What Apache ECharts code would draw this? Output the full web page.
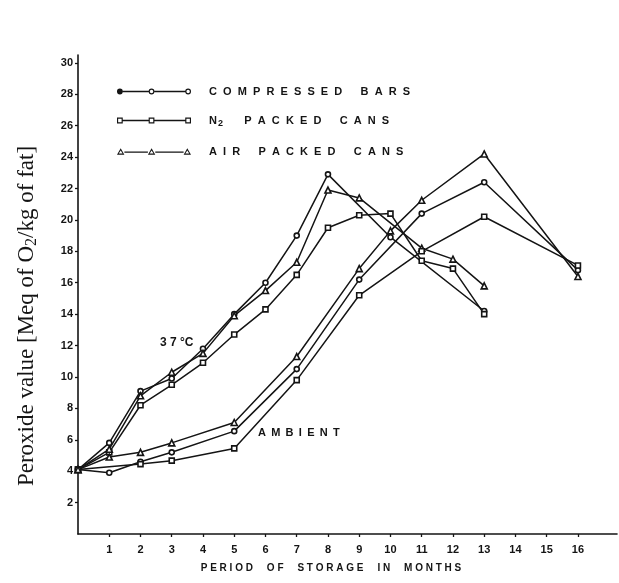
<!DOCTYPE html>
<html>
<head>
<meta charset="utf-8">
<script src="https://cdn.jsdelivr.net/npm/echarts@6/dist/echarts.min.js"></script>
<style>html,body{margin:0;padding:0;background:#fff}#c{width:619px;height:583px}</style>
</head>
<body>
<div id="c"></div>
<script>
// ---- tick labels ----
const xTicks = [1,2,3,4,5,6,7,8,9,10,11,12,13,14,15,16];
const yTicks = [2,4,6,8,10,12,14,16,18,20,22,24,26,28,30];

// ---- series names ----
const seriesNames = ['COMPRESSED BARS', 'N2 PACKED CANS', 'AIR PACKED CANS'];

// ---- 37 °C storage ----
const compressed37Months = [0,1,2,3,4,5,6,7,8,10,13];
const compressed37Values = [4.1,5.8,9.1,9.9,11.8,14.0,16.0,19.0,22.9,18.9,14.2];
const n2Cans37Months = [0,1,2,3,4,5,6,7,8,9,10,11,12,13];
const n2Cans37Values = [4.1,5.2,8.2,9.5,10.9,12.7,14.3,16.5,19.5,20.3,20.4,17.4,16.9,14.0];
const airCans37Months = [0,1,2,3,4,5,6,7,8,9,11,12,13];
const airCans37Values = [4.1,5.4,8.8,10.3,11.5,13.9,15.5,17.3,21.9,21.4,18.2,17.5,15.8];

// ---- ambient storage ----
const compressedAmbMonths = [0,1,2,3,5,7,9,11,13,16];
const compressedAmbValues = [4.1,3.9,4.6,5.2,6.55,10.5,16.2,20.4,22.4,16.8];
const n2CansAmbMonths = [0,2,3,5,7,9,11,13,16];
const n2CansAmbValues = [4.1,4.45,4.67,5.45,9.8,15.2,18.0,20.2,17.1];
const airCansAmbMonths = [0,1,2,3,5,7,9,10,11,13,16];
const airCansAmbValues = [4.1,4.9,5.2,5.8,7.1,11.3,16.9,19.3,21.25,24.2,16.4];

const INK = '#141414';
const TYPE_FONT = '"Liberation Sans", "DejaVu Sans", sans-serif';

function spaced(s) {
  return s.split(' ').map(w => w.split('').join('  ')).join('      ');
}
function spacedSingle(s, gap) {
  return s.split(' ').map(w => w.split('').join(' ')).join(gap || '    ');
}

// ---- legend icon paths (line sample with three markers) ----
const CY = 5, R = 3.5, RI = 2.1;
const MARKS = [3.5, 42, 86.5];
function seg(x1, x2) {
  return `M${x1},${CY - 0.8} L${x2},${CY - 0.8} L${x2},${CY + 0.8} L${x1},${CY + 0.8} Z `;
}
function circ(cx, r, cw) {
  const s = cw ? 1 : 0;
  return `M${cx - r},${CY} A${r},${r} 0 1,${s} ${cx + r},${CY} A${r},${r} 0 1,${s} ${cx - r},${CY} Z `;
}
function sq(cx, r, cw) {
  return cw
    ? `M${cx - r},${CY - r} L${cx + r},${CY - r} L${cx + r},${CY + r} L${cx - r},${CY + r} Z `
    : `M${cx - r},${CY - r} L${cx - r},${CY + r} L${cx + r},${CY + r} L${cx + r},${CY - r} Z `;
}
function tri(cx, r, cw) {
  return cw
    ? `M${cx},${CY - r} L${cx + r},${CY + r * 0.7} L${cx - r},${CY + r * 0.7} Z `
    : `M${cx},${CY - r * 0.85} L${cx - r},${CY + r * 0.7} L${cx + r},${CY + r * 0.7} Z `;
}
function iconPath(shape, firstFilled) {
  const ro = shape === tri ? 4.6 : R;
  const ri = shape === tri ? 2.4 : RI;
  let p = seg(MARKS[0] + ro, MARKS[1] - ro) + seg(MARKS[1] + ro, MARKS[2] - ro);
  MARKS.forEach((cx, i) => {
    p += shape(cx, ro, true);
    if (!(firstFilled && i === 0)) p += shape(cx, ri, false);
  });
  return 'path://' + p;
}
const legendIcons = [iconPath(circ, true), iconPath(sq, false), iconPath(tri, false)];

function mk(name, months, values, symbol) {
  return {
    type: 'line',
    name: name,
    data: months.map((m, i) => [m, values[i]]),
    symbol: symbol,
    symbolSize: symbol === 'triangle' ? 6 : 5,
    showSymbol: true,
    color: INK,
    lineStyle: { color: INK, width: 1.5 },
    itemStyle: { color: '#fff', borderColor: INK, borderWidth: 1.6 },
    emphasis: { disabled: true },
    animation: false,
    z: 3
  };
}

const chart = echarts.init(document.getElementById('c'), null, { renderer: 'canvas' });

const axisLbl = { color: INK, fontSize: 11, fontWeight: 'bold', fontFamily: TYPE_FONT };

chart.setOption({
  backgroundColor: '#fff',
  animation: false,
  grid: { left: 78, right: 2, top: 55, bottom: 49, containLabel: false },
  legend: {
    data: seriesNames.map((n, i) => ({ name: n, icon: legendIcons[i] })),
    orient: 'vertical',
    left: 112,
    top: 81,
    itemWidth: 74,
    itemHeight: 10,
    itemGap: 18,
    selectedMode: false,
    itemStyle: { color: INK, borderWidth: 0, borderColor: 'transparent' },
    textStyle: {
      color: INK, fontSize: 11, fontWeight: 'bold', fontFamily: TYPE_FONT,
      padding: [0, 0, 0, 13],
      rich: {
        t: { color: INK, fontSize: 11, fontWeight: 'bold', fontFamily: TYPE_FONT },
        sub: { color: INK, fontSize: 9, fontWeight: 'bold', fontFamily: TYPE_FONT, verticalAlign: 'bottom', padding: [6, 0, 0, 1] }
      }
    },
    formatter: function (name) {
      if (name.indexOf('N2') === 0) {
        return '{t|N}{sub|2}{t|       ' + spaced(name.slice(3)) + '}';
      }
      return '{t|' + spaced(name) + '}';
    }
  },
  xAxis: {
    type: 'value',
    min: 0,
    max: 17.25,
    interval: 1,
    axisLine: { show: true, onZero: false, lineStyle: { color: INK, width: 1.6 } },
    axisTick: { show: true, customValues: xTicks, length: 3, lineStyle: { color: INK, width: 1.3 } },
    axisLabel: Object.assign({ customValues: xTicks, margin: 10 }, axisLbl),
    splitLine: { show: false }
  },
  yAxis: {
    type: 'value',
    min: 0,
    max: 30.5,
    interval: 2,
    axisLine: { show: true, onZero: false, lineStyle: { color: INK, width: 1.6 } },
    axisTick: { show: true, customValues: yTicks, length: 3, lineStyle: { color: INK, width: 1.3 } },
    axisLabel: Object.assign({ customValues: yTicks, margin: 5 }, axisLbl),
    splitLine: { show: false }
  },
  graphic: [
    {
      type: 'text',
      x: 27, y: 316,
      rotation: Math.PI / 2,
      style: {
        text: '{a|Peroxide value [Meq of O}{s|2}{a|/kg of fat]}',
        align: 'center',
        verticalAlign: 'middle',
        rich: {
          a: { fontFamily: '"Liberation Serif", "DejaVu Serif", serif', fontSize: 23, fill: INK },
          s: { fontFamily: '"Liberation Serif", "DejaVu Serif", serif', fontSize: 16, fill: INK, verticalAlign: 'bottom', padding: [9, 0, 0, 0] }
        }
      }
    },
    {
      type: 'text',
      x: 331, y: 568,
      style: {
        text: spacedSingle('PERIOD OF STORAGE IN MONTHS', '     '),
        align: 'center', verticalAlign: 'middle',
        font: 'bold 10px ' + TYPE_FONT, fill: INK
      }
    },
    {
      type: 'text',
      x: 160, y: 343,
      style: {
        text: '3 7 °C',
        align: 'left', verticalAlign: 'middle',
        font: 'bold 12px ' + TYPE_FONT, fill: INK
      }
    },
    {
      type: 'text',
      x: 258, y: 433,
      style: {
        text: 'AMBIENT'.split('').join(' \u2009'),
        align: 'left', verticalAlign: 'middle',
        font: 'bold 11px ' + TYPE_FONT, fill: INK
      }
    }
  ],
  series: [
    mk(seriesNames[0], compressed37Months, compressed37Values, 'circle'),
    mk(seriesNames[1], n2Cans37Months, n2Cans37Values, 'rect'),
    mk(seriesNames[2], airCans37Months, airCans37Values, 'triangle'),
    mk(seriesNames[0], compressedAmbMonths, compressedAmbValues, 'circle'),
    mk(seriesNames[1], n2CansAmbMonths, n2CansAmbValues, 'rect'),
    mk(seriesNames[2], airCansAmbMonths, airCansAmbValues, 'triangle')
  ]
});
</script>
</body>
</html>
